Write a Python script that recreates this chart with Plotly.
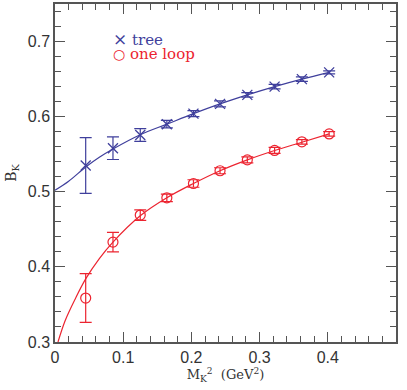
import plotly.graph_objects as go

# Data
mk2 = [0.045, 0.085, 0.125, 0.164, 0.203, 0.242, 0.282, 0.322, 0.362, 0.402]
bk_tree = [0.535, 0.558, 0.5755, 0.590, 0.604, 0.617, 0.629, 0.640, 0.650, 0.659]
err_tree = [0.037, 0.015, 0.0085, 0.005, 0.004, 0.004, 0.003, 0.003, 0.003, 0.002]
bk_loop = [0.3585, 0.433, 0.469, 0.492, 0.511, 0.528, 0.5425, 0.555, 0.5665, 0.577]
err_loop = [0.0325, 0.013, 0.007, 0.005, 0.005, 0.004, 0.004, 0.004, 0.003, 0.003]

# Fit curves
fit_tree_x = [0.0, 0.02, 0.045, 0.065, 0.085, 0.125, 0.164, 0.203, 0.242, 0.282, 0.322, 0.362, 0.402]
fit_tree_y = [0.502, 0.514, 0.533, 0.546, 0.557, 0.576, 0.590, 0.604, 0.617, 0.629, 0.640, 0.650, 0.659]
fit_loop_x = [0.0044, 0.0147, 0.03, 0.045, 0.065, 0.085, 0.125, 0.164, 0.203, 0.242, 0.282, 0.322, 0.362, 0.402]
fit_loop_y = [0.300, 0.328, 0.358, 0.384, 0.411, 0.433, 0.468, 0.492, 0.511, 0.528, 0.5425, 0.555, 0.566, 0.577]

BLUE = '#3f3f9c'
RED = '#ec2430'
AXIS = '#555555'
SERIF = 'DejaVu Serif, Liberation Serif, serif'

fig = go.Figure()

fig.add_trace(go.Scatter(x=fit_tree_x, y=fit_tree_y, mode='lines', line=dict(color=BLUE, width=1.2, shape='spline'),
                         showlegend=False, hoverinfo='skip'))
fig.add_trace(go.Scatter(x=fit_loop_x, y=fit_loop_y, mode='lines', line=dict(color=RED, width=1.2, shape='spline'),
                         showlegend=False, hoverinfo='skip'))

fig.add_trace(go.Scatter(
    x=mk2, y=bk_tree, mode='markers', showlegend=False,
    marker=dict(symbol='x-thin-open', size=10, color=BLUE, line=dict(color=BLUE, width=1.3)),
    error_y=dict(type='data', array=err_tree, color=BLUE, thickness=1.2, width=6)
))
fig.add_trace(go.Scatter(
    x=mk2, y=bk_loop, mode='markers', showlegend=False,
    marker=dict(symbol='circle-open', size=10, color=RED, line=dict(color=RED, width=1.2)),
    error_y=dict(type='data', array=err_loop, color=RED, thickness=1.2, width=6)
))

# legend as text
fig.add_annotation(xref='paper', yref='paper', x=0.165, y=0.896, xanchor='left', yanchor='middle',
                   text='<span style="font-size:17px">×</span> tree', showarrow=False,
                   font=dict(family=SERIF, size=15, color=BLUE))
fig.add_annotation(xref='paper', yref='paper', x=0.165, y=0.851, xanchor='left', yanchor='middle',
                   text='<span style="font-size:14px">○</span> one loop', showarrow=False,
                   font=dict(family=SERIF, size=15, color=RED))

axis_common = dict(
    showline=True, linecolor=AXIS, linewidth=1.5, mirror='allticks',
    ticks='inside', ticklen=10, tickwidth=1, tickcolor=AXIS,
    showgrid=False, zeroline=False,
    tickfont=dict(family='Liberation Sans, Arial', size=16, color='#333333'),
)

fig.update_xaxes(range=[0, 0.5], tickvals=[0, 0.1, 0.2, 0.3, 0.4, 0.5],
                 ticktext=['0', '0.1', '0.2', '0.3', '0.4', '0.5'],
                 minor=dict(dtick=0.02, ticks='inside', ticklen=6, tickcolor=AXIS, showgrid=False),
                 title=dict(text='M<sub>K</sub><sup>2</sup>  (GeV<sup>2</sup>)', standoff=4,
                            font=dict(family=SERIF, size=13, color='#333333')),
                 **axis_common)
fig.update_yaxes(range=[0.3, 0.75], tickvals=[0.3, 0.4, 0.5, 0.6, 0.7],
                 ticktext=['0.3', '0.4', '0.5', '0.6', '0.7'],
                 minor=dict(dtick=0.02, ticks='inside', ticklen=6, tickcolor=AXIS, showgrid=False),
                 title=dict(text='B<sub>K</sub>', standoff=8,
                            font=dict(family=SERIF, size=14, color='#333333')),
                 **axis_common)

fig.update_layout(
    width=407, height=390,
    margin=dict(l=55, r=11, t=2, b=48),
    plot_bgcolor='white', paper_bgcolor='white',
    showlegend=False,
)

fig.write_html("out.html", config={'displayModeBar': False},
               post_script="document.body.style.margin='0';")
